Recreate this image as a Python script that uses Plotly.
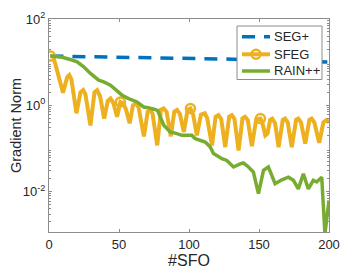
import plotly.graph_objects as go

# SEG+
seg_x = [1, 25, 50, 75, 100, 125, 150, 175, 190, 200]
seg_y = [13.8, 13.5, 13.0, 12.6, 12.2, 11.8, 11.2, 10.8, 10.4, 10.0]

# SFEG
sfeg_x = [1, 3, 5, 10, 13, 14.5, 16, 19.6, 22.5, 24.4, 26, 29.6, 32.5, 34.4, 36.5, 39.4,
          42, 44, 46, 48.6, 51, 53, 55, 57.6, 60, 62.2, 64, 67.8, 70.5, 72.4, 74, 77.3,
          80, 81.9, 84, 87, 89.5, 91.4, 93.5, 96.3, 99, 101, 103, 105.6, 108.5, 111.2,
          113, 116.4, 119, 121, 123, 125.9, 128.7, 130.6, 132.5, 135.4, 138.2, 140, 142,
          144.9, 148, 151, 152.5, 154.5, 156, 158, 159.5, 161.5, 164, 167, 168.6, 170.5,
          173.4, 176.5, 178, 180, 183, 186, 187.6, 189.5, 193, 196, 198, 200]
sfeg_y = [13.8, 13.5, 7.9, 1.95, 4.5, 5.0, 4.0, 0.65, 2.0, 2.24, 1.8, 0.34, 2.0, 2.24, 1.6, 0.49,
          1.26, 1.43, 1.12, 0.54, 1.19, 1.1, 0.8, 0.38, 1.0, 1.1, 0.89, 0.19, 0.71, 0.78, 0.63, 0.117,
          0.79, 0.84, 0.7, 0.19, 0.71, 0.78, 0.63, 0.24, 0.78, 0.84, 0.6, 0.2, 0.6, 0.65,
          0.5, 0.117, 0.54, 0.59, 0.48, 0.107, 0.54, 0.59, 0.48, 0.089, 0.5, 0.54, 0.45,
          0.112, 0.47, 0.49, 0.38, 0.2, 0.22, 0.46, 0.49, 0.38, 0.107, 0.46, 0.49, 0.4,
          0.107, 0.46, 0.49, 0.4, 0.129, 0.46, 0.49, 0.4, 0.135, 0.4, 0.45, 0.41]
sfeg_mark_x = [1, 51, 101, 151]
sfeg_mark_y = [13.8, 1.19, 0.84, 0.49]

# RAIN++
rain_x = [1, 4, 9.4, 15.3, 20.1, 24.8, 29.6, 35.5, 39.1, 43.9, 48.6, 52.2, 56.9, 62.9, 67.6,
          70, 75, 77.5, 82, 86.6, 91.4, 95, 102, 104.5, 111.6, 115.2, 117.5, 123.5, 127,
          131.8, 136.5, 138.9, 142.5, 146, 149.6, 153.2, 156.7, 161.5, 166.3, 171, 174.6,
          178.1, 181.7, 185.2, 188.8, 191.2, 194.8, 197.1, 200]
rain_y = [13.8, 13.5, 12.9, 11.5, 10.2, 7.8, 5.45, 3.81, 3.48, 2.92, 2.23, 1.71, 1.43, 1.19, 0.91,
          0.89, 0.81, 0.76, 0.343, 0.24, 0.219, 0.2, 0.2, 0.168, 0.14, 0.107, 0.076, 0.0575, 0.0525,
          0.037, 0.0437, 0.0457, 0.037, 0.0282, 0.0089, 0.031, 0.037, 0.0151, 0.0186, 0.0214, 0.0182,
          0.0115, 0.0257, 0.0115, 0.0182, 0.0166, 0.0214, 0.00105, 0.0062]

x_ticks = [0, 50, 100, 150, 200]
y_ticks = [1e-2, 1, 1e2]
y_tick_text = ["10<sup>-2</sup>", "10<sup>0</sup>", "10<sup>2</sup>"]
legend_names = ["SEG+", "SFEG", "RAIN++"]

BLUE = "#0072BD"
ORANGE = "#EDB120"
GREEN = "#77AC30"
FONT = "Liberation Sans, Arial, sans-serif"
TXT = "#262626"
AX = "#8c8c8c"

W, H = 354, 263
ML, MR, MT, MB = 41, 33, 11, 39
PW, PH = W - ML - MR, H - MT - MB

fig = go.Figure()
fig.add_trace(go.Scatter(x=seg_x, y=seg_y, mode="lines", name="SEG+", showlegend=False,
                         line=dict(color=BLUE, width=3.5, dash="13px,9px")))
fig.add_trace(go.Scatter(x=sfeg_x, y=sfeg_y, mode="lines", name="SFEG", showlegend=False,
                         line=dict(color=ORANGE, width=4)))
fig.add_trace(go.Scatter(x=sfeg_mark_x, y=sfeg_mark_y, mode="markers", showlegend=False,
                         marker=dict(symbol="circle-open", size=9, color=ORANGE,
                                     line=dict(width=2.5, color=ORANGE))))
fig.add_trace(go.Scatter(x=rain_x, y=rain_y, mode="lines", name="RAIN++", showlegend=False,
                         line=dict(color=GREEN, width=3.5)))

minor_vals = []
for e in [-3, -2, -1, 0, 1]:
    for m in range(2, 10):
        minor_vals.append(m * 10 ** e)

axis_common = dict(showline=True, linecolor=AX, linewidth=1, mirror="allticks",
                   ticks="inside", tickcolor=AX, ticklen=3, showgrid=False,
                   zeroline=False, automargin=False,
                   tickfont=dict(family=FONT, size=13, color=TXT))

fig.update_xaxes(range=[0, 200], tickvals=x_ticks,
                 title=dict(text="#SFO", font=dict(family=FONT, size=16, color=TXT), standoff=0),
                 **axis_common)
fig.update_yaxes(type="log", range=[-2.94, 2], tickvals=y_ticks, ticktext=y_tick_text,
                 minor=dict(tickvals=minor_vals, ticks="inside", ticklen=2, tickcolor=AX),
                 title=dict(text="Gradient Norm", font=dict(family=FONT, size=14.5, color=TXT), standoff=8),
                 **axis_common)

# manual legend (positions in plot-area pixels, converted to paper fractions)
def px(xp):
    return xp / PW

def py(yp):
    return 1 - yp / PH

box_l, box_r, box_t, box_b = 188, 273, 7, 60.5
row_y = [17.7, 35.3, 52]
samp_l, samp_r, text_x = 193, 221, 223
shapes = [dict(type="rect", xref="paper", yref="paper", x0=px(box_l), x1=px(box_r),
               y0=py(box_b), y1=py(box_t), line=dict(color=AX, width=1), fillcolor="white",
               layer="above")]
styles = [dict(color=BLUE, width=3.5, dash="13px,9px"),
          dict(color=ORANGE, width=4),
          dict(color=GREEN, width=3.5)]
for ry, st in zip(row_y, styles):
    shapes.append(dict(type="line", xref="paper", yref="paper", x0=px(samp_l), x1=px(samp_r),
                       y0=py(ry), y1=py(ry), line=st, layer="above"))
cx = (samp_l + samp_r) / 2
r = 4.5
shapes.append(dict(type="circle", xref="paper", yref="paper", x0=px(cx - r), x1=px(cx + r),
                   y0=py(row_y[1] + r), y1=py(row_y[1] - r),
                   line=dict(color=ORANGE, width=2.5), fillcolor="rgba(0,0,0,0)", layer="above"))
annotations = []
for ry, name in zip(row_y, legend_names):
    annotations.append(dict(text=name, xref="paper", yref="paper", x=px(text_x), y=py(ry),
                            xanchor="left", yanchor="middle", showarrow=False,
                            font=dict(family=FONT, size=13, color=TXT)))

fig.update_layout(
    width=W, height=H,
    margin=dict(l=ML, r=MR, t=MT, b=MB),
    paper_bgcolor="white", plot_bgcolor="white",
    showlegend=False,
    shapes=shapes, annotations=annotations,
)

fig.write_html("out.html")
